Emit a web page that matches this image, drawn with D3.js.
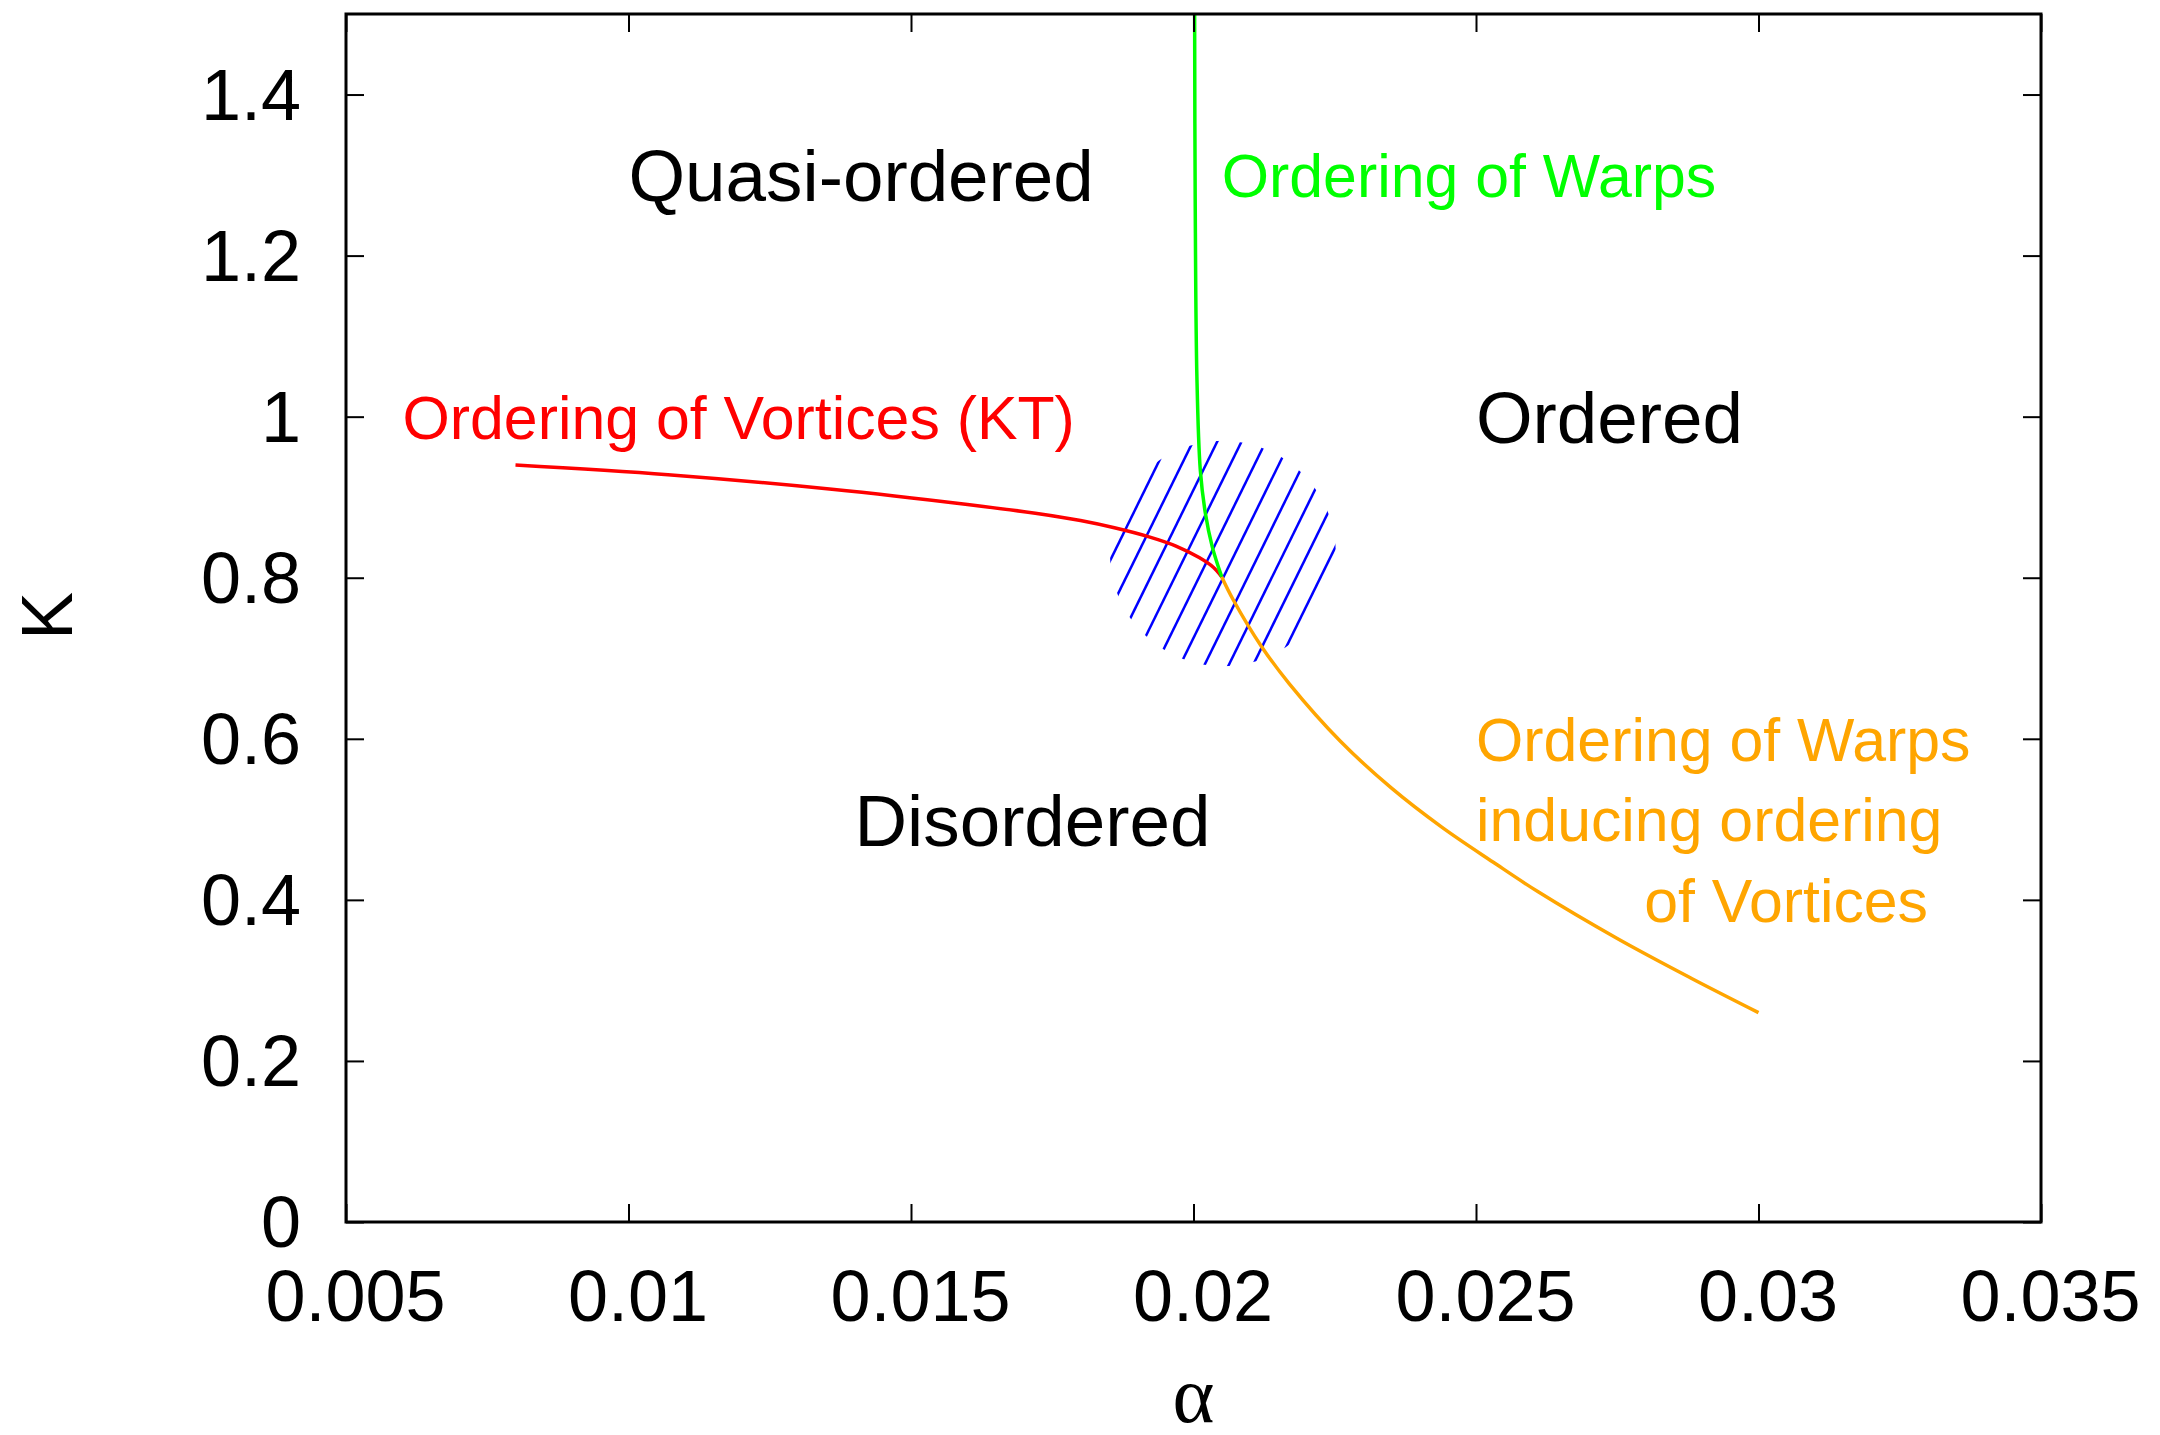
<!DOCTYPE html>
<html>
<head>
<meta charset="utf-8">
<script src="https://d3js.org/d3.v7.min.js"></script>
<style>
  body { margin: 0; background: #fff; }
  text { font-family: "Liberation Sans", Arial, Helvetica, sans-serif; }
</style>
</head>
<body>
<svg id="chart" width="2160" height="1435"></svg>
<script>
// axis ticks
var xTicks = [0.005, 0.01, 0.015, 0.02, 0.025, 0.03, 0.035];
var xTickLabels = ["0.005", "0.01", "0.015", "0.02", "0.025", "0.03", "0.035"];
var yTicks = [0, 0.2, 0.4, 0.6, 0.8, 1, 1.2, 1.4];
var yTickLabels = ["0", "0.2", "0.4", "0.6", "0.8", "1", "1.2", "1.4"];

// ordering of vortices (KT), red
var vortexAlpha = [0.0080, 0.0107, 0.0136, 0.0160, 0.0172, 0.0180, 0.0186, 0.0192, 0.0197, 0.0201, 0.02035, 0.0205];
var vortexKappa = [0.940, 0.928, 0.910, 0.891, 0.880, 0.871, 0.862, 0.851, 0.839, 0.825, 0.813, 0.801];
// ordering of warps, green
var warpAlpha = [0.02002, 0.02003, 0.02006, 0.02012, 0.02021, 0.02033, 0.0205];
var warpKappa = [1.5, 1.27, 1.05, 0.934, 0.880, 0.839, 0.801];
// warps inducing ordering of vortices, orange
var inducedAlpha = [0.0205, 0.0207, 0.0212, 0.0217, 0.0226, 0.0235, 0.0244, 0.0253, 0.0261, 0.0275, 0.0288, 0.0300];
var inducedKappa = [0.801, 0.773, 0.715, 0.668, 0.597, 0.539, 0.490, 0.447, 0.410, 0.352, 0.303, 0.260];
// hatched region round the multicritical point
var hatchCenter = [0.02052, 0.83];
var hatchRadius = [0.002, 0.14];

var svg = d3.select("#chart");
// note: "top" is a reserved window global, so use plot* names
var plotL = 346, plotR = 2041, plotT = 14, plotB = 1222;

var x = d3.scaleLinear().domain([0.005, 0.035]).range([plotL, plotR]);
var y = d3.scaleLinear().domain([0, 1.5]).range([plotB, plotT]);

var defs = svg.append("defs");
defs.append("clipPath").attr("id", "plotClip")
  .append("rect").attr("x", plotL).attr("y", plotT)
  .attr("width", plotR - plotL).attr("height", plotB - plotT);

// hatch
var cx = x(hatchCenter[0]), cy = y(hatchCenter[1]);
var rx = x(hatchCenter[0] + hatchRadius[0]) - cx;
var ry = cy - y(hatchCenter[1] + hatchRadius[1]);
defs.append("clipPath").attr("id", "hatchClip")
  .append("ellipse").attr("cx", cx).attr("cy", cy).attr("rx", rx).attr("ry", ry);

var ang = 63.8 * Math.PI / 180;
var dir = [Math.cos(ang), -Math.sin(ang)];
var nrm = [Math.sin(ang), Math.cos(ang)];
var sp = 21.8, L = rx + 20;
svg.append("g").attr("clip-path", "url(#hatchClip)")
  .selectAll("line").data(d3.range(-4.5, 5, 1)).enter().append("line")
  .attr("x1", function (o) { return cx + o * sp * nrm[0] - L * dir[0]; })
  .attr("y1", function (o) { return cy + o * sp * nrm[1] - L * dir[1]; })
  .attr("x2", function (o) { return cx + o * sp * nrm[0] + L * dir[0]; })
  .attr("y2", function (o) { return cy + o * sp * nrm[1] + L * dir[1]; })
  .attr("stroke", "#0000ff").attr("stroke-width", 2.5);

// curves
var line = d3.line()
  .x(function (d) { return x(d[0]); })
  .y(function (d) { return y(d[1]); })
  .curve(d3.curveCatmullRom);

var curves = [
  { a: vortexAlpha, k: vortexKappa, color: "#ff0000" },
  { a: warpAlpha, k: warpKappa, color: "#00ff00" },
  { a: inducedAlpha, k: inducedKappa, color: "#ffa500" }
];
var cg = svg.append("g").attr("clip-path", "url(#plotClip)");
curves.forEach(function (c) {
  cg.append("path")
    .datum(d3.zip(c.a, c.k))
    .attr("d", line)
    .attr("fill", "none")
    .attr("stroke", c.color)
    .attr("stroke-width", 3.5);
});

// axes
function styleAxis(g) {
  g.select(".domain").remove();
  g.selectAll(".tick line").attr("stroke", "#000").attr("stroke-width", 2);
  g.selectAll(".tick text").attr("fill", "#000").attr("font-size", 72)
    .attr("font-family", "Liberation Sans, Arial, sans-serif");
}

svg.append("g").attr("transform", "translate(0," + plotB + ")")
  .call(d3.axisBottom(x).tickValues(xTicks)
    .tickFormat(function (d, i) { return xTickLabels[i]; })
    .tickSizeInner(-18).tickSizeOuter(0).tickPadding(48))
  .call(styleAxis)
  .selectAll(".tick text").attr("dx", 9);

svg.append("g").attr("transform", "translate(" + plotL + ",0)")
  .call(d3.axisLeft(y).tickValues(yTicks)
    .tickFormat(function (d, i) { return yTickLabels[i]; })
    .tickSizeInner(-18).tickSizeOuter(0).tickPadding(45))
  .call(styleAxis)
  .selectAll(".tick text").attr("dy", "0.34em");

svg.append("g").attr("transform", "translate(0," + plotT + ")")
  .call(d3.axisTop(x).tickValues(xTicks).tickFormat("")
    .tickSizeInner(-18).tickSizeOuter(0))
  .call(styleAxis);

svg.append("g").attr("transform", "translate(" + plotR + ",0)")
  .call(d3.axisRight(y).tickValues(yTicks).tickFormat("")
    .tickSizeInner(-18).tickSizeOuter(0))
  .call(styleAxis);

// frame
svg.append("rect")
  .attr("x", plotL).attr("y", plotT)
  .attr("width", plotR - plotL).attr("height", plotB - plotT)
  .attr("fill", "none").attr("stroke", "#000").attr("stroke-width", 3);

// axis titles
svg.append("text")
  .attr("x", x(0.02)).attr("y", 1422)
  .attr("text-anchor", "middle")
  .style("font-family", "Liberation Serif, Times New Roman, serif")
  .attr("font-size", 80)
  .text("α");

svg.append("text")
  .attr("transform", "translate(72,616) rotate(-90)")
  .attr("text-anchor", "middle")
  .attr("font-size", 72)
  .text("Κ");

// region and line labels
function label(xv, yv, txt, color, size, anchor) {
  svg.append("text")
    .attr("x", x(xv)).attr("y", y(yv))
    .attr("dy", "0.36em")
    .attr("text-anchor", anchor || "start")
    .attr("fill", color).attr("font-size", size)
    .text(txt);
}
label(0.01, 1.3, "Quasi-ordered", "#000", 72.8);
label(0.025, 1.0, "Ordered", "#000", 72.8);
label(0.014, 0.5, "Disordered", "#000", 72.8);
label(0.0205, 1.3, "Ordering of Warps", "#00ff00", 60.8);
label(0.006, 1.0, "Ordering of Vortices (KT)", "#ff0000", 60.8);
label(0.025, 0.6, "Ordering of Warps", "#ffa500", 60.8);
label(0.025, 0.5, "inducing ordering", "#ffa500", 60.8);
label(0.033, 0.4, "of Vortices", "#ffa500", 60.8, "end");
</script>
</body>
</html>
